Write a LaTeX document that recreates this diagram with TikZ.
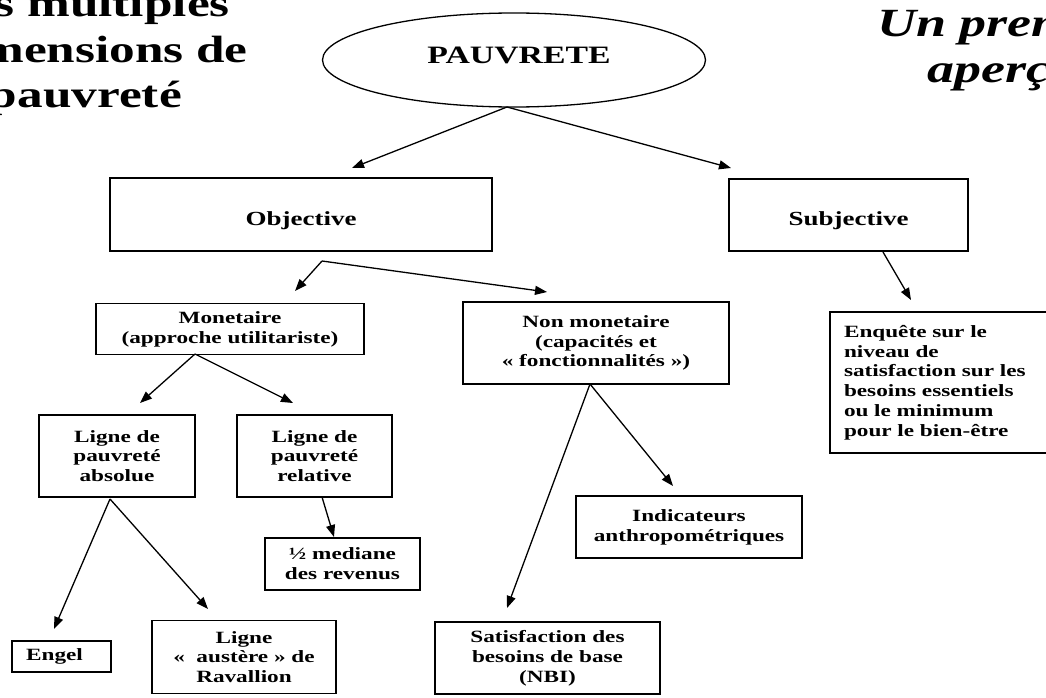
\documentclass[tikz,border=0pt]{standalone}
\usepackage{fontspec}
\setmainfont{Liberation Serif}[FakeStretch=1.35]
\usetikzlibrary{arrows.meta,shapes.geometric}
\begin{document}
\begin{tikzpicture}[x=1pt,y=-1pt,
  pbox/.style={draw, line width=1.5pt, rectangle, inner sep=0pt, align=center,
    font=\bfseries\fontsize{17.2}{19.8}\selectfont},
  bigbox/.style={pbox, text height=21pt, text depth=0pt,
    font=\bfseries\fontsize{20}{23}\selectfont},
  parr/.style={line width=1.3pt, -{Triangle[length=12pt,width=9pt]}},
  ptitle/.style={inner sep=0pt, font=\bfseries\fontsize{38}{45}\selectfont},
  ptitleit/.style={inner sep=0pt, font=\bfseries\itshape\fontsize{40}{46}\selectfont}]
\useasboundingbox (0,0) rectangle (1046,698);
\clip (0,0) rectangle (1046,698);
\fill[white] (0,0) rectangle (1046,698);

% titles (cut off by the frame, as in the reference)
\node[ptitle, anchor=base east] (t1) at (230,17) {Les multiples};
\node[ptitle, anchor=base east] (t2) at (248,63) {dimensions de};
\node[ptitle, anchor=base east] (t3) at (182,108) {la pauvreté};
\node[ptitleit, anchor=base west] (t4) at (877,37) {Un premier};
\node[ptitleit, anchor=base west] (t5) at (927,83) {aperçu};

% root
\node[draw, ellipse, line width=1.3pt, minimum width=383pt, minimum height=94pt, inner sep=0pt] (pauv) at (514,60) {};
\node[inner sep=0pt, font=\bfseries\fontsize{25}{28}\selectfont] (pauvt) at (519,55) {PAUVRETE};

% boxes
\node[bigbox, minimum width=382pt, minimum height=73pt] (obj) at (301,214.5) {Objective};
\node[bigbox, minimum width=239pt, minimum height=72pt] (subj) at (848.5,215) {Subjective};
\node[pbox, minimum width=268pt, minimum height=51pt] (mon) at (230,329) {Monetaire\\(approche utilitariste)};
\node[pbox, minimum width=266pt, minimum height=82pt] (nmon) at (596,343) {Non monetaire\\(capacités et\\« fonctionnalités »)};
\node[pbox, minimum width=220pt, minimum height=141pt, text width=192pt, align=left] (enq) at (940,382.5) {Enquête sur le\\niveau de\\satisfaction sur les\\besoins essentiels\\ou le minimum\\pour le bien-être};
\node[pbox, minimum width=156pt, minimum height=82pt] (abs) at (117,456) {Ligne de\\pauvreté\\absolue};
\node[pbox, minimum width=155pt, minimum height=82pt] (rel) at (314.5,456) {Ligne de\\pauvreté\\relative};
\node[pbox, minimum width=155pt, minimum height=52pt] (med) at (342.5,564) {½ mediane\\des revenus};
\node[pbox, minimum width=99pt, minimum height=31pt] (engel) at (61.5,656.5) {Engel\hspace{14pt}};
\node[pbox, minimum width=184pt, minimum height=73pt] (rav) at (244,657) {Ligne\\«~~austère »~de\\Ravallion};
\node[pbox, minimum width=226pt, minimum height=62pt] (ind) at (689,527) {Indicateurs\\anthropométriques};
\node[pbox, minimum width=225pt, minimum height=72pt] (sat) at (547.5,658) {Satisfaction des\\besoins de base\\(NBI)};

% connector end points
\coordinate (p0) at (507,107);
\coordinate (pobj) at (352,168);
\coordinate (psubj) at (731,168);
\coordinate (o0) at (322,261);
\coordinate (omon) at (295,291);
\coordinate (onmon) at (547,292);
\coordinate (s0) at (883,252);
\coordinate (senq) at (911,300);
\coordinate (m0) at (195,354);
\coordinate (mabs) at (140,403);
\coordinate (mrel) at (293,403);
\coordinate (r0) at (322,497);
\coordinate (rmed) at (334,537);
\coordinate (a0) at (110,499);
\coordinate (aengel) at (54,629);
\coordinate (arav) at (208,609);
\coordinate (n0) at (590,384);
\coordinate (nind) at (673,486);
\coordinate (nsat) at (507,608);

\draw[parr] (p0) -- (pobj);
\draw[parr] (p0) -- (psubj);
\draw[parr] (o0) -- (omon);
\draw[parr] (o0) -- (onmon);
\draw[parr] (s0) -- (senq);
\draw[parr] (m0) -- (mabs);
\draw[parr] (m0) -- (mrel);
\draw[parr] (r0) -- (rmed);
\draw[parr] (a0) -- (aengel);
\draw[parr] (a0) -- (arav);
\draw[parr] (n0) -- (nind);
\draw[parr] (n0) -- (nsat);
\end{tikzpicture}
\end{document}
